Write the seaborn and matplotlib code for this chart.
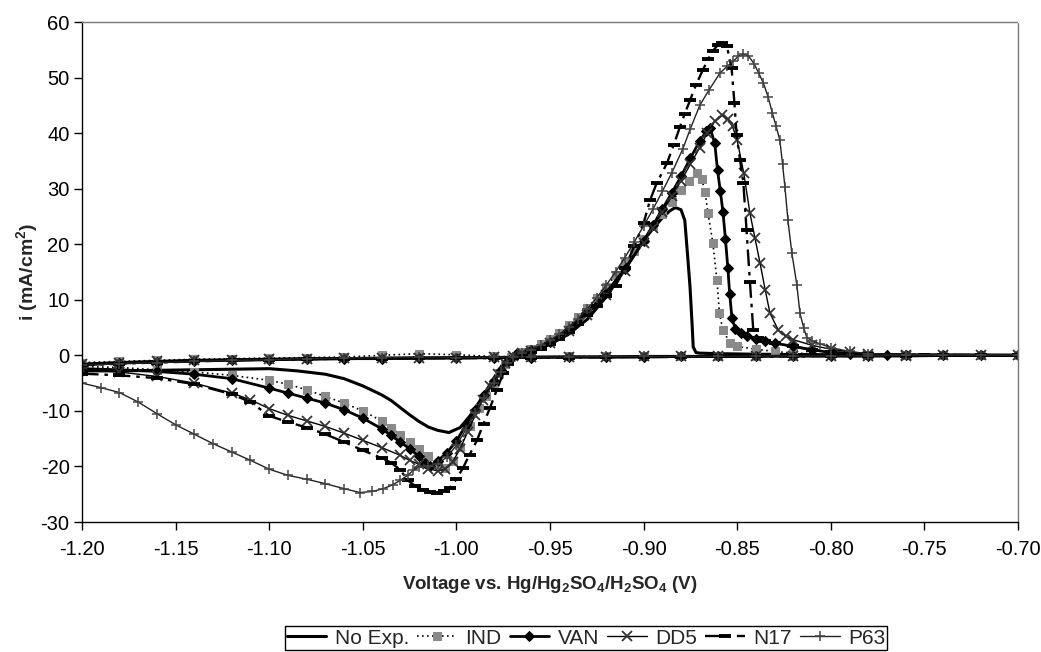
import numpy as np
import pandas as pd
import matplotlib
matplotlib.use("Agg")
import matplotlib.pyplot as plt
import seaborn as sns

# ---------------- data ----------------
# common voltages of the return (cathodic) sweep, -0.70 -> -1.20 V
rev_v = [-0.72, -0.74, -0.76, -0.78, -0.80, -0.82, -0.84, -0.86, -0.88, -0.90, -0.92, -0.94, -0.96,
         -0.98, -1.00, -1.02, -1.04, -1.06, -1.08, -1.10, -1.12, -1.14, -1.16, -1.18, -1.20]

# No Exp.
noexp_fv = [-1.20, -1.18, -1.16, -1.14, -1.12, -1.10, -1.085, -1.07, -1.06, -1.05, -1.04, -1.035, -1.03,
            -1.025, -1.02, -1.015, -1.01, -1.004, -0.998, -0.993, -0.988, -0.983, -0.978, -0.974, -0.97,
            -0.965, -0.96, -0.955, -0.95, -0.945, -0.94, -0.935, -0.93, -0.925, -0.92, -0.915, -0.91,
            -0.905, -0.90, -0.895, -0.8896, -0.886, -0.883, -0.880, -0.878, -0.8765, -0.8752, -0.874,
            -0.8735, -0.872, -0.87, -0.86, -0.84, -0.80, -0.75, -0.70]
noexp_fi = [-2.8, -2.8, -2.7, -2.6, -2.5, -2.4, -2.8, -3.4, -4.2, -5.5, -7.1, -8.1, -9.4,
            -10.7, -11.9, -12.9, -13.5, -13.9, -13.0, -11.0, -8.5, -5.8, -3.0, -1.0, 0.0,
            0.3, 0.8, 1.3, 2.0, 2.9, 3.8, 5.2, 6.5, 8.5, 10.5, 13.0, 15.5,
            18.2, 20.7, 22.8, 24.9, 26.0, 26.6, 26.2, 24.3, 18.0, 12.3, 5.0,
            1.5, 0.5, 0.4, 0.3, 0.2, 0.1, 0.0, 0.0]
noexp_ri = [0.0, 0.0, -0.1, -0.1, -0.1, -0.1, -0.1, -0.2, -0.2, -0.2, -0.3, -0.3, -0.3,
            -0.4, -0.4, -0.5, -0.5, -0.6, -0.6, -0.7, -0.8, -0.9, -1.1, -1.3, -1.6]

# IND
ind_fv = [-1.20, -1.18, -1.16, -1.14, -1.12, -1.10, -1.09, -1.08, -1.07, -1.06, -1.05, -1.04, -1.035,
          -1.03, -1.025, -1.02, -1.015, -1.01, -1.006, -1.002, -0.998, -0.993, -0.988, -0.984, -0.98,
          -0.977, -0.974, -0.971, -0.965, -0.96, -0.955, -0.95, -0.945, -0.94, -0.935, -0.93, -0.925,
          -0.92, -0.915, -0.91, -0.905, -0.90, -0.895, -0.89, -0.885, -0.88, -0.876, -0.8715, -0.869,
          -0.8672, -0.8656, -0.863, -0.8608, -0.8595, -0.8576, -0.8538, -0.85, -0.84, -0.83, -0.82,
          -0.80, -0.76, -0.70]
ind_fi = [-2.0, -2.2, -2.6, -3.0, -3.6, -4.5, -5.2, -6.2, -7.4, -8.6, -10.0, -11.8, -13.0,
          -14.3, -15.6, -16.9, -18.2, -19.6, -20.3, -19.0, -16.5, -12.8, -9.5, -7.4, -5.0,
          -3.2, -1.6, -0.3, 0.6, 1.2, 2.0, 3.0, 4.1, 5.4, 6.9, 8.6, 10.3,
          12.3, 14.4, 16.6, 18.8, 21.0, 23.2, 25.4, 27.6, 29.8, 31.4, 32.8, 31.8,
          29.4, 25.6, 20.2, 13.5, 7.6, 4.5, 2.2, 1.6, 1.1, 0.7, 0.4,
          0.2, 0.1, 0.0]
ind_ri = [0.1, 0.1, 0.0, 0.0, 0.0, -0.1, -0.1, -0.1, -0.1, -0.2, -0.2, -0.2, -0.3,
          -0.2, 0.1, 0.3, 0.0, -0.3, -0.4, -0.5, -0.6, -0.7, -0.9, -1.1, -1.3]

# VAN
van_fv = [-1.20, -1.18, -1.16, -1.14, -1.12, -1.10, -1.09, -1.08, -1.07, -1.06, -1.05, -1.04, -1.035,
          -1.03, -1.025, -1.02, -1.017, -1.014, -1.01, -1.005, -1.00, -0.995, -0.99, -0.985, -0.98,
          -0.976, -0.972, -0.968, -0.96, -0.95, -0.94, -0.93, -0.92, -0.91, -0.90, -0.895, -0.89,
          -0.885, -0.88, -0.875, -0.87, -0.8665, -0.8645, -0.862, -0.8605, -0.859, -0.8576, -0.8563,
          -0.855, -0.854, -0.8528, -0.851, -0.848, -0.845, -0.84, -0.835, -0.83, -0.82, -0.81, -0.80,
          -0.79, -0.77, -0.70]
van_fi = [-2.4, -2.6, -2.9, -3.4, -4.2, -5.9, -6.8, -7.7, -8.6, -9.8, -11.3, -13.2, -14.4,
          -15.6, -16.8, -18.2, -19.3, -19.9, -19.0, -17.5, -15.4, -12.6, -9.8, -7.1, -4.6,
          -2.6, -0.8, 0.2, 0.9, 2.4, 4.8, 7.8, 11.3, 15.6, 20.6, 23.4, 26.3,
          29.2, 32.2, 35.5, 38.6, 40.3, 40.9, 38.2, 33.3, 29.5, 25.8, 21.0,
          15.7, 11.0, 6.7, 4.8, 4.0, 3.5, 3.0, 2.6, 2.2, 1.6, 1.0, 0.5,
          0.3, 0.1, 0.0]
van_ri = [0.0, 0.0, 0.0, -0.1, -0.1, -0.1, -0.2, -0.2, -0.2, -0.3, -0.3, -0.3, -0.4,
          -0.4, -0.5, -0.5, -0.6, -0.6, -0.7, -0.8, -0.9, -1.0, -1.2, -1.4, -1.7]

# DD5
dd5_fv = [-1.20, -1.18, -1.16, -1.14, -1.12, -1.11, -1.10, -1.09, -1.08, -1.07, -1.06, -1.05, -1.04,
          -1.03, -1.025, -1.02, -1.015, -1.01, -1.006, -1.002, -0.998, -0.994, -0.99, -0.986, -0.982,
          -0.978, -0.974, -0.97, -0.965, -0.96, -0.95, -0.94, -0.93, -0.92, -0.91, -0.90, -0.895,
          -0.89, -0.885, -0.88, -0.875, -0.87, -0.866, -0.862, -0.858, -0.855, -0.8525, -0.85,
          -0.8465, -0.8432, -0.8405, -0.8378, -0.835, -0.8325, -0.828, -0.824, -0.82, -0.81, -0.80,
          -0.79, -0.78, -0.76, -0.70]
dd5_fi = [-2.6, -3.0, -3.8, -5.0, -6.8, -8.0, -9.6, -10.8, -11.8, -12.8, -14.0, -15.3, -16.6,
          -18.0, -18.9, -19.6, -20.4, -20.8, -20.5, -19.2, -16.8, -13.8, -10.8, -8.0, -5.5,
          -3.3, -1.4, -0.1, 0.4, 0.8, 2.2, 4.4, 7.3, 10.8, 15.2, 20.3, 23.0,
          25.8, 28.6, 31.4, 34.4, 37.4, 40.0, 42.1, 43.2, 42.6, 41.2, 38.7,
          32.8, 25.6, 21.1, 16.6, 11.7, 7.6, 4.5, 3.4, 2.8, 1.8, 1.1,
          0.6, 0.3, 0.1, 0.0]
dd5_ri = [0.0, 0.0, -0.1, -0.1, -0.1, -0.1, -0.2, -0.2, -0.2, -0.2, -0.3, -0.3, -0.3,
          -0.3, -0.4, -0.4, -0.5, -0.5, -0.6, -0.7, -0.8, -0.9, -1.1, -1.3, -1.5]

# N17
n17_fv = [-1.20, -1.18, -1.16, -1.14, -1.12, -1.11, -1.10, -1.09, -1.08, -1.07, -1.06, -1.05, -1.04,
          -1.035, -1.03, -1.026, -1.022, -1.018, -1.014, -1.0104, -1.0065, -1.0034, -1.00, -0.9964,
          -0.993, -0.989, -0.9855, -0.982, -0.9785, -0.975, -0.9725, -0.97, -0.965, -0.96, -0.955,
          -0.95, -0.945, -0.94, -0.935, -0.93, -0.925, -0.92, -0.915, -0.91, -0.905, -0.90, -0.8966,
          -0.893, -0.8875, -0.884, -0.8806, -0.878, -0.8752, -0.872, -0.8683, -0.8655, -0.863,
          -0.8605, -0.858, -0.8555, -0.853, -0.8515, -0.8503, -0.8485, -0.8467, -0.845, -0.8432,
          -0.8414, -0.839, -0.835, -0.83, -0.82, -0.81, -0.80, -0.78, -0.75, -0.70]
n17_fi = [-3.3, -3.6, -4.1, -5.2, -7.0, -8.4, -10.9, -12.0, -13.0, -14.2, -15.6, -17.1, -18.5,
          -19.3, -20.6, -22.5, -23.5, -24.3, -24.6, -24.7, -24.4, -23.8, -22.3, -20.2,
          -17.9, -15.3, -12.3, -9.4, -6.3, -3.2, -1.6, -0.4, 0.2, 0.6, 1.2,
          2.0, 3.0, 4.2, 5.6, 7.2, 8.9, 10.6, 12.5, 15.8, 19.6, 23.8, 27.9,
          31.0, 34.6, 37.8, 41.1, 43.5, 45.9, 48.7, 51.4, 53.3, 54.8,
          55.8, 56.2, 55.6, 51.7, 45.5, 39.6, 35.2, 31.0, 22.5, 13.2,
          4.5, 3.2, 2.6, 2.2, 1.6, 1.0, 0.6, 0.2, 0.1, 0.0]
n17_ri = [0.0, 0.0, -0.1, -0.1, -0.1, -0.2, -0.2, -0.2, -0.3, -0.3, -0.3, -0.4, -0.4,
          -0.5, -0.5, -0.5, -0.6, -0.6, -0.7, -0.8, -0.9, -1.1, -1.3, -1.5, -1.8]

# P63
p63_fv = [-1.20, -1.19, -1.18, -1.17, -1.16, -1.15, -1.14, -1.13, -1.12, -1.11, -1.10, -1.09, -1.08,
          -1.07, -1.06, -1.0515, -1.045, -1.039, -1.034, -1.03, -1.026, -1.023, -1.02, -1.015, -1.01,
          -1.005, -1.00, -0.995, -0.99, -0.985, -0.98, -0.976, -0.973, -0.97, -0.965, -0.96, -0.955,
          -0.95, -0.945, -0.94, -0.935, -0.93, -0.925, -0.92, -0.915, -0.91, -0.905, -0.90, -0.895,
          -0.89, -0.885, -0.879, -0.875, -0.87, -0.865, -0.8592, -0.8555, -0.8522, -0.8495, -0.8469,
          -0.844, -0.841, -0.8385, -0.836, -0.8335, -0.8312, -0.8292, -0.8272, -0.8258, -0.8245,
          -0.8229, -0.8208, -0.8181, -0.8165, -0.8145, -0.8128, -0.81, -0.806, -0.80, -0.79, -0.78,
          -0.76, -0.70]
p63_fi = [-5.0, -5.8, -6.7, -8.4, -10.5, -12.5, -14.2, -15.9, -17.4, -18.9, -20.5, -21.6, -22.3,
          -23.1, -24.0, -24.7, -24.5, -24.0, -23.3, -22.5, -21.6, -20.7, -20.1, -19.9, -19.5,
          -18.3, -16.2, -13.4, -10.4, -7.6, -5.0, -3.0, -1.4, -0.3, 0.4, 1.0, 1.8,
          2.7, 3.8, 5.1, 6.6, 8.4, 10.4, 12.6, 15.0, 17.6, 20.4, 23.3, 26.3,
          29.5, 32.8, 37.2, 40.8, 45.0, 47.8, 50.8, 52.0, 52.9, 53.8, 54.2,
          53.9, 52.5, 50.8, 49.0, 46.5, 43.6, 41.2, 38.7, 34.5, 30.3,
          24.3, 18.4, 12.6, 7.6, 5.0, 3.2, 2.6, 2.1, 1.4, 0.7, 0.3,
          0.1, 0.0]
p63_ri = [0.0, 0.0, 0.0, -0.1, -0.1, -0.1, -0.1, -0.2, -0.2, -0.2, -0.2, -0.3, -0.3,
          -0.3, -0.4, -0.3, -0.4, -0.5, -0.6, -0.8, -0.9, -1.1, -1.3, -1.5, -1.8]

labels = ["No Exp.", "IND", "VAN", "DD5", "N17", "P63"]
x_ticks = [-1.20, -1.15, -1.10, -1.05, -1.00, -0.95, -0.90, -0.85, -0.80, -0.75, -0.70]
y_ticks = [-30, -20, -10, 0, 10, 20, 30, 40, 50, 60]

# ---------------- style ----------------
sns.set_theme(style="ticks")
plt.rcParams["font.family"] = ["Liberation Sans", "DejaVu Sans"]
plt.rcParams["mathtext.fontset"] = "custom"
plt.rcParams["mathtext.rm"] = "Liberation Sans"
plt.rcParams["mathtext.bf"] = "Liberation Sans:bold"
plt.rcParams["mathtext.it"] = "Liberation Sans:italic"

fig = plt.figure(figsize=(10.41, 6.52), dpi=100)
ax = fig.add_axes([82 / 1041, 1 - 522 / 652, (1018 - 82) / 1041, (522 - 22) / 652])

series = [
    (noexp_fv + rev_v, noexp_fi + noexp_ri,
     dict(color="black", lw=2.2, ls="-")),
    (ind_fv + rev_v, ind_fi + ind_ri,
     dict(color="black", lw=1.2, ls=(0, (1, 2)), marker="s", ms=6, mfc="#8a8a8a", mec="#8a8a8a")),
    (van_fv + rev_v, van_fi + van_ri,
     dict(color="black", lw=2.0, ls="-", marker="D", ms=5, mfc="black", mec="black")),
    (dd5_fv + rev_v, dd5_fi + dd5_ri,
     dict(color="black", lw=1.0, ls="-", marker="x", ms=6.5, mec="#333333", mew=1.3)),
    (n17_fv + rev_v, n17_fi + n17_ri,
     dict(color="black", lw=1.7, ls=(0, (7, 2.5, 1.5, 2.5)), marker="_", ms=9, mec="black", mew=2.8)),
    (p63_fv + rev_v, p63_fi + p63_ri,
     dict(color="#222222", lw=1.0, ls="-", marker="+", ms=7.5, mec="#444444", mew=1.1)),
]

for (xv, yv, kw), lab in zip(series, labels):
    df = pd.DataFrame({"v": xv, "i": yv})
    sns.lineplot(data=df, x="v", y="i", sort=False, estimator=None, ax=ax,
                 label=lab, legend=False, **kw)

if ax.get_legend() is not None:
    ax.get_legend().remove()

ax.set_xlim(-1.20, -0.70)
ax.set_ylim(-30, 60)
ax.set_xticks(x_ticks)
ax.set_xticklabels([f"{t:.2f}" for t in x_ticks], fontsize=14.5)
ax.set_yticks(y_ticks)
ax.set_yticklabels([str(t) for t in y_ticks], fontsize=14.5)
ax.tick_params(axis="both", direction="out", length=6, width=1, colors="black")
ax.tick_params(axis="x", pad=7)
ax.tick_params(axis="y", pad=3)

for side in ["left", "bottom"]:
    ax.spines[side].set_color("black")
    ax.spines[side].set_linewidth(1.0)
for side in ["top", "right"]:
    ax.spines[side].set_visible(True)
    ax.spines[side].set_color("#777777")
    ax.spines[side].set_linestyle((0, (1, 1)))
    ax.spines[side].set_linewidth(1.0)

ax.set_xlabel(r"Voltage vs. Hg/Hg$_{\mathbf{2}}$SO$_{\mathbf{4}}$/H$_{\mathbf{2}}$SO$_{\mathbf{4}}$ (V)",
              fontsize=13.5, fontweight="bold", labelpad=11)
ax.set_ylabel(r"i (mA/cm$^{\mathbf{2}}$)", fontsize=14, fontweight="bold", labelpad=0)

handles, labs = ax.get_legend_handles_labels()
leg = fig.legend(handles, labs, loc="center", bbox_to_anchor=(586 / 1041, 1 - 638 / 652),
                 ncol=6, frameon=True, fancybox=False, edgecolor="black", framealpha=1,
                 fontsize=15, handlelength=1.9, handletextpad=0.4, columnspacing=0.4,
                 borderpad=0.1, borderaxespad=0)
leg.get_frame().set_linewidth(1.0)

fig.savefig("out.png", dpi=100, facecolor="white")
